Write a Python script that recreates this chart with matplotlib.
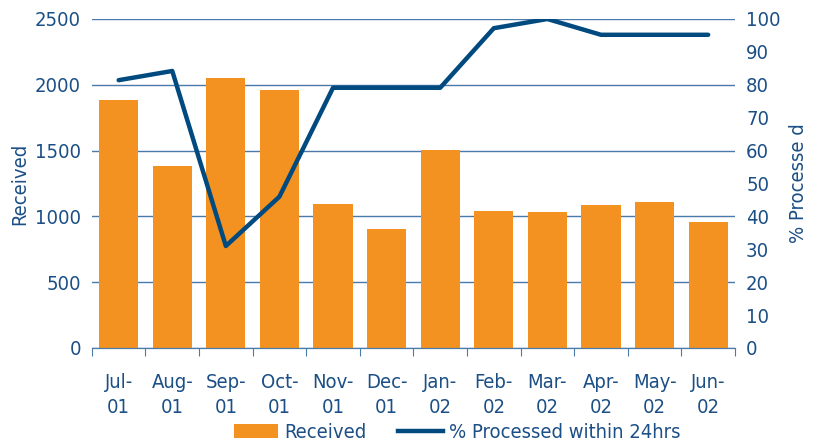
import numpy as np
import matplotlib
matplotlib.use('Agg')
import matplotlib.pyplot as plt
from matplotlib.patches import Patch
from matplotlib.lines import Line2D

plt.rcParams['font.family'] = ['DejaVu Sans']
plt.rcParams['font.stretch'] = 'condensed'

months = ['Jul-\n01', 'Aug-\n01', 'Sep-\n01', 'Oct-\n01', 'Nov-\n01', 'Dec-\n01',
          'Jan-\n02', 'Feb-\n02', 'Mar-\n02', 'Apr-\n02', 'May-\n02', 'Jun-\n02']
received = [1884, 1383, 2052, 1960, 1094, 904, 1504, 1041, 1033, 1087, 1109, 957]
pct_24hrs = [81.4, 84.2, 31.0, 46.0, 79.1, 79.1, 79.1, 97.2, 100, 95.2, 95.2, 95.2]

orange = '#F39221'
navy = '#004A80'
txt = '#1B4F85'
grid = '#4A7AAA'

fig = plt.figure(figsize=(8.13, 4.47), dpi=100)
ax = fig.add_axes([0.113, 0.2215, 0.791, 0.736])
ax2 = ax.twinx()

x = np.arange(len(months))
ax.bar(x, received, width=0.73, color=orange, zorder=2)
ax.set_ylim(0, 2500)
ax.set_xlim(-0.5, len(months) - 0.5)
ax.set_yticks(range(0, 2501, 500))
ax.yaxis.grid(True, color=grid, linewidth=1.0, zorder=0)
ax.set_axisbelow(True)

ax2.plot(x, pct_24hrs, color=navy, linewidth=3.2, solid_capstyle='round', zorder=3)
ax2.set_ylim(0, 100)
ax2.set_yticks(range(0, 101, 10))

for a in (ax, ax2):
    for s in ('top', 'left', 'right'):
        a.spines[s].set_visible(False)
    a.spines['bottom'].set_color(grid)
    a.tick_params(axis='y', length=0, labelsize=14.5, labelcolor=txt, pad=8)

# month labels between boundary ticks
ax.set_xticks(np.arange(-0.5, len(months), 1))
ax.set_xticklabels([])
ax.tick_params(axis='x', length=6, color=grid, direction='out')
ax.set_xticks(x, minor=True)
ax.set_xticklabels(months, minor=True, fontsize=14.5, color=txt, linespacing=1.4)
ax.tick_params(axis='x', which='minor', length=0, pad=18)

ax.set_ylabel('Received', fontsize=14.5, color=txt, labelpad=4)
ax2.set_ylabel('% Processe d', fontsize=14.5, color=txt, labelpad=6)

handles = [Patch(facecolor=orange, edgecolor='none'),
           Line2D([0], [0], color=navy, linewidth=3.2)]
fig.legend(handles, ['Received', '% Processed within 24hrs'], loc='center',
           bbox_to_anchor=(0.562, 0.032), ncol=2, frameon=False, fontsize=14.5,
           labelcolor=txt, handlelength=2.2, handletextpad=0.3, columnspacing=1.6)

plt.savefig('out.png', dpi=100)
